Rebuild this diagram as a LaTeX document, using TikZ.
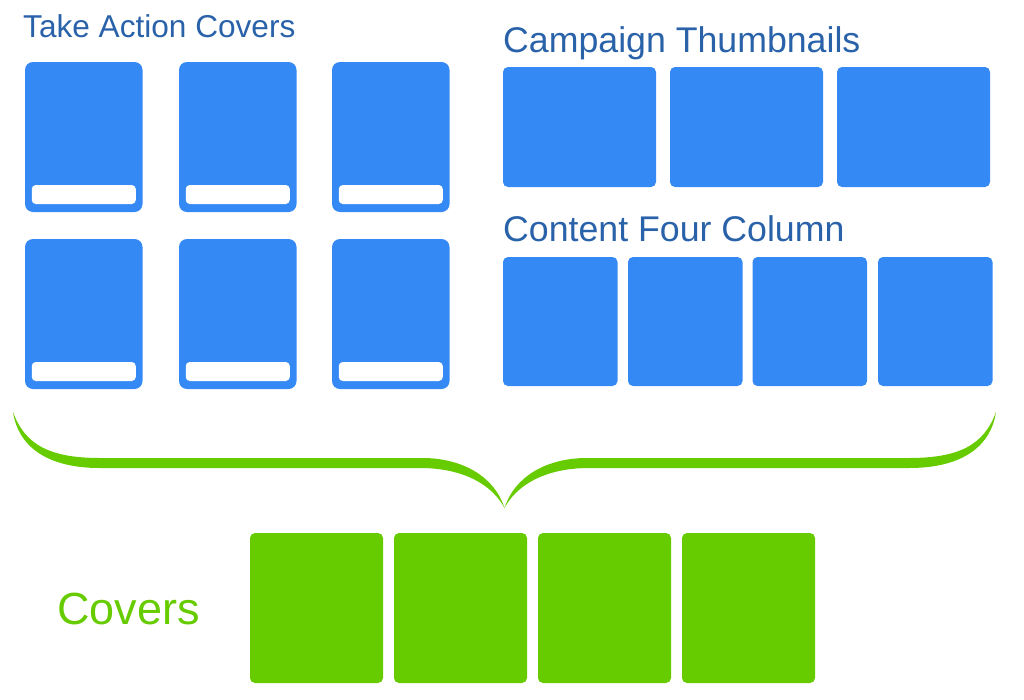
\documentclass[tikz,border=0pt]{standalone}
\usepackage{fontspec}
\newfontfamily\labfont{Liberation Sans}
\definecolor{boxblue}{HTML}{3589F4}
\definecolor{titleblue}{HTML}{2A62AA}
\definecolor{covgreen}{HTML}{66CC00}
\begin{document}
\begin{tikzpicture}[x=1pt,y=-1pt,
  base/.style={inner sep=0pt, outer sep=0pt, anchor=north west, draw=none},
  cover/.style={base, fill=boxblue, rounded corners=8pt, minimum width=117.5pt, minimum height=150pt},
  coverbar/.style={inner sep=0pt, outer sep=0pt, anchor=south, fill=white, rounded corners=4pt, minimum width=104pt, minimum height=19pt},
  thumb/.style={base, fill=boxblue, rounded corners=5pt, minimum width=153pt, minimum height=120pt},
  fourcol/.style={base, fill=boxblue, rounded corners=5pt, minimum width=114.5pt, minimum height=129pt},
  greenbox/.style={base, fill=covgreen, rounded corners=5pt, minimum width=133pt, minimum height=150pt},
  title/.style={inner sep=0pt, anchor=base west, text=titleblue, font=\labfont\fontsize{31.6}{31.6}\selectfont},
  bigtitle/.style={title, font=\labfont\fontsize{35.7}{35.7}\selectfont},
  greentitle/.style={inner sep=0pt, anchor=base west, text=covgreen, font=\labfont\fontsize{45}{45}\selectfont}
]
\useasboundingbox (0,0) rectangle (1024,699);

% Titles
\node[title] (t1) at (23,37) {Take Action Covers};
\node[bigtitle] (t2) at (503,52) {Campaign Thumbnails};
\node[bigtitle] (t3) at (503,241) {Content Four Column};
\node[greentitle] (t4) at (57,624) {Covers};

% Take Action Covers
\foreach \x/\n in {25/1,179/2,332/3}{
  \node[cover] (ca\n) at (\x,62) {};
  \node[coverbar] (ba\n) at ([yshift=8pt]ca\n.south) {};
  \node[cover] (cb\n) at (\x,239) {};
  \node[coverbar] (bb\n) at ([yshift=8pt]cb\n.south) {};
}

% Campaign Thumbnails
\foreach \x/\n in {503/1,670/2,837/3}{
  \node[thumb] (th\n) at (\x,67) {};
}

% Content Four Column
\foreach \x/\n in {503/1,628/2,752.5/3,878/4}{
  \node[fourcol] (fc\n) at (\x,257) {};
}

% Covers (green)
\foreach \x/\n in {250/1,394/2,538/3,682/4}{
  \node[greenbox] (gb\n) at (\x,533) {};
}

% Brace
\coordinate (bl) at (13,412);
\coordinate (br) at (996,412);
\coordinate (tip) at (504.5,508);
\fill[covgreen] (bl) .. controls (25,445) and (50,458) .. (100,458)
  -- (425,458) .. controls (465,459) and (495,478) .. (tip)
  .. controls (514,478) and (544,459) .. (584,458)
  -- (909,458) .. controls (959,458) and (984,445) .. (br)
  .. controls (991,445) and (964,468) .. (909,468)
  -- (589,468) .. controls (544,468) and (516,486) .. (tip)
  .. controls (493,486) and (465,468) .. (420,468)
  -- (100,468) .. controls (45,468) and (18,445) .. (bl) -- cycle;
\end{tikzpicture}
\end{document}
